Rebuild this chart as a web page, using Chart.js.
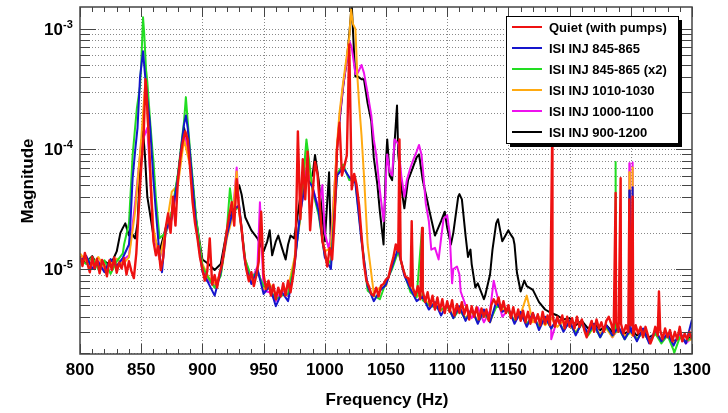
<!DOCTYPE html>
<html>
<head>
<meta charset="utf-8">
<script src="https://cdn.jsdelivr.net/npm/chart.js@4.4.1/dist/chart.umd.min.js"></script>
<style>
  html, body { margin: 0; padding: 0; background: #fff; }
  canvas { display: block; }
</style>
</head>
<body>
<canvas id="spec" width="728" height="413"></canvas>
<script>
// 値はすべて 1e-6 単位（読み取り値）
const X_MIN = 800, X_MAX = 1300;
const Y_MIN = 1.96e-6, Y_MAX = 1.52e-3;
const X_TICK_STEP = 50;

const SERIES_LABELS = ['Quiet (with pumps)', 'ISI INJ 845-865', 'ISI INJ 845-865 (x2)',
  'ISI INJ 1010-1030', 'ISI INJ 1000-1100', 'ISI INJ 900-1200'];
const SERIES_COLORS = ['#ee1111', '#1515cc', '#22dd22', '#ffaa11', '#ee11ee', '#000000'];

// Quiet: 2 Hz 刻み
const QUIET_F0 = 800, QUIET_DF = 2;
const quietMag = [
  12.8, 10.6, 13.6, 11.2, 9.4, 12.6, 10.0, 12.2, 9.2, 11.9, 10.7, 8.7, 11.8, 9.8, 12.5, 9.3, 11.3, 10.1, 12.3, 9.0, 11.6, 9.6, 8.4, 13.5,
  32, 70, 130, 330, 140, 45, 17, 13, 15.5, 9.8, 12.5, 22, 29, 20, 40, 23, 55, 85, 115, 140, 120, 68, 36, 24, 18, 12.5,
  10, 8.0, 9.6, 18, 7.4, 8.9, 7.0, 9.2, 11, 15, 21, 28, 36, 23, 56, 31, 22, 13.5, 9.8, 7.9,
  9.4, 7.2, 8.8, 11.5, 30, 9.0, 6.8, 8.0, 6.0, 7.4, 5.6, 7.0, 5.9, 7.6, 6.0, 8.0, 6.4, 8.6, 13, 140,
  26, 82, 38, 95, 21, 42, 78, 62, 33, 17,
  14, 10.5, 15, 12, 26, 100, 165, 60, 72, 88, 740, 46, 62, 50, 34, 19, 11, 8.0, 7.2, 6.2,
  6.0, 7.0, 5.9, 7.3, 7.5, 8.2, 8.5, 10.5, 12.5, 16, 14, 12, 10, 8.6, 8.4, 7.2, 7.0, 6.0, 7.2, 5.6,
  6.6, 5.3, 6.4, 4.9, 6.0, 4.6, 5.8, 4.5, 5.6, 4.3,
  5.4, 4.4, 5.5, 4.1, 5.1, 4.3, 5.3, 4.2, 5.0, 3.8, 4.9, 4.0, 4.8, 3.8, 4.7, 4.0, 4.6, 3.7, 5.0, 5.6,
  5.1, 5.8, 4.5, 5.4, 4.3, 5.0, 3.9, 4.8, 3.8, 4.6, 3.7, 4.5, 3.6, 4.4, 3.5, 4.3, 3.6, 4.2, 3.4, 4.4,
  3.5, 4.1, 3.4, 4.2, 3.3, 4.0, 3.5, 4.1, 3.2, 4.0,
  3.3, 3.9, 3.2, 4.0, 3.3, 3.8, 3.1, 2.7, 3.2, 3.7, 3.0, 3.8, 3.2, 3.6, 3.0, 3.7, 4.0, 3.5, 2.9, 3.6,
  3.0, 3.5, 2.9, 3.4, 3.0, 3.4, 2.8, 3.4, 2.9, 3.3, 2.7, 3.3, 2.8, 2.4, 2.7, 3.3, 2.8, 3.1, 2.6, 3.2,
  2.7, 3.1, 2.5, 3.0, 2.6, 3.3, 2.5, 2.9, 2.6, 3.0, 2.6
];
const quietExtra = [[853.5, 380], [1061, 120], [1071, 25], [1079.5, 22], [1185.9, 160],
  [1237.6, 43], [1241.7, 57], [1248.8, 38], [1251.5, 40], [1273, 6.5]];

// 注入データ: 5 Hz 刻み
const INJ_F0 = 800, INJ_DF = 5;
const inj845Mag = [
  11.5, 12.9, 10.0, 11.4, 9.4, 12.1, 10.6, 12.4, 16, 95,
  480, 260, 55, 13, 21, 27, 58, 160, 88, 22,
  9.5, 7.6, 6.0, 9.5, 19, 31, 34, 11, 7.5, 10,
  6.2, 7.2, 4.9, 6.4, 5.4, 10, 30, 58, 48, 30,
  12.5, 10, 60, 70, 58, 52, 17, 7.2, 5.4, 6.6,
  7.4, 10.5, 15, 8.8, 6.8, 5.4, 5.9, 4.6, 5.3, 4.1,
  5.1, 3.9, 4.9, 3.7, 4.7, 3.5, 4.6, 3.6, 5.3, 4.4,
  4.7, 3.5, 4.4, 3.3, 4.3, 3.1, 4.0, 3.2, 3.9, 3.0,
  3.7, 2.8, 3.6, 2.9, 3.5, 2.7, 3.4, 2.8, 3.3, 2.6,
  3.2, 2.5, 3.2, 2.4, 3.1, 2.5, 2.9, 2.3, 3.0, 2.4,
  3.8
];
const inj845Extra = [[841, 22], [843, 57], [847, 150], [849, 390], [851.5, 650], [853, 430],
  [857, 170], [859, 80], [862, 30], [867, 9.4], [883, 110], [886.5, 190], [888, 150],
  [1248.4, 3.0], [1248.8, 45], [1249.2, 3.0], [1251.1, 2.9], [1251.5, 48], [1251.9, 2.9]];

const inj845x2Mag = [
  12.0, 11.0, 12.6, 9.9, 11.8, 9.1, 11.6, 13.5, 24, 150,
  500, 360, 80, 18, 20, 30, 62, 170, 95, 26,
  10.5, 8.4, 7.0, 8.8, 21, 30, 33, 12, 8.6, 9.4,
  7.2, 6.8, 5.6, 6.0, 6.2, 11, 28, 120, 46, 28,
  13, 11, 62, 74, 55, 54, 18, 6.6, 6.0, 5.6,
  7.8, 10, 14, 9.2, 6.4, 5.8, 5.5, 5.0, 4.8, 4.6,
  4.9, 3.9, 4.6, 3.8, 4.5, 3.6, 4.3, 3.7, 4.8, 5.0,
  4.4, 3.7, 4.2, 3.5, 4.1, 3.3, 4.0, 3.2, 3.8, 3.1,
  3.6, 2.9, 3.5, 2.8, 3.4, 2.7, 3.3, 2.8, 3.2, 2.6,
  3.1, 2.6, 3.0, 2.5, 2.9, 2.4, 2.8, 2.1, 2.7, 2.5,
  2.7
];
const inj845x2Extra = [[836, 16], [843, 89], [846.5, 220], [849, 330], [851.5, 1250], [852.5, 900],
  [854, 450], [857.5, 160], [859.5, 89], [862, 39], [886.5, 270], [888, 170], [922.5, 47],
  [1079.5, 22], [1237.2, 3.0], [1237.6, 78], [1238.0, 3.0], [1285.5, 2.0]];

const inj1010Mag = [
  13.5, 11.6, 10.8, 12.6, 10.2, 11.0, 12.2, 11.0, 12.5, 30,
  120, 200, 22, 12, 21, 44, 50, 120, 72, 24,
  11, 8.6, 7.6, 9.0, 18, 28, 30, 12, 8.2, 9.8,
  6.8, 7.5, 6.2, 6.6, 7.0, 12, 26, 110, 44, 30,
  14, 15, 110, 360, 850, 1000, 130, 16, 6.3, 7.0,
  7.2, 11, 14, 9.0, 7.0, 6.0, 6.0, 5.0, 5.2, 4.5,
  5.0, 4.1, 4.7, 3.9, 4.6, 3.7, 4.3, 3.6, 5.0, 4.6,
  4.6, 3.7, 4.2, 6.0, 3.6, 4.0, 3.4, 3.9, 3.3, 3.7,
  3.4, 3.0, 3.5, 2.8, 3.3, 2.9, 3.2, 2.7, 3.2, 2.8,
  3.0, 2.6, 3.0, 2.5, 2.9, 2.6, 2.8, 2.4, 2.7, 2.5,
  2.6
];
const inj1010Extra = [[854, 440], [928, 65], [1008, 50], [1012, 200], [1018, 600], [1021.5, 1450],
  [1023, 1100], [1026.5, 420], [1028, 240], [1032, 60],
  [1248.4, 2.9], [1248.8, 64], [1249.2, 2.9], [1251.1, 2.8], [1251.5, 70], [1251.9, 2.8]];

const inj1000Mag = [
  11.8, 12.4, 10.6, 11.6, 10.0, 11.4, 10.4, 11.8, 13, 35,
  110, 150, 20, 12, 20, 26, 55, 140, 80, 23,
  10, 8.0, 7.2, 9.4, 20, 30, 32, 11.5, 8.0, 10.5,
  6.6, 6.4, 5.4, 6.8, 6.0, 11, 28, 70, 48, 32,
  20, 18, 100, 340, 800, 420, 500, 290, 120, 45,
  60, 60, 110, 40, 70, 95, 70, 25, 15, 18,
  28, 10, 9, 5.0, 3.9, 4.8, 3.6, 4.5, 6.5, 4.0,
  4.6, 3.6, 4.3, 3.4, 4.2, 3.3, 4.0, 3.3, 3.8, 3.1,
  3.6, 2.9, 3.5, 2.9, 3.4, 2.8, 3.3, 2.7, 3.2, 2.7,
  3.2, 2.6, 3.0, 2.5, 3.0, 2.5, 2.9, 2.4, 2.8, 2.4,
  2.7
];
const inj1000Extra = [[928, 70], [947, 36], [998, 50], [1003, 15], [1008, 50], [1012, 180],
  [1018, 550], [1022, 700], [1024, 500], [1027, 430], [1032, 430], [1038, 190], [1042, 90],
  [1048, 25], [1049.5, 40], [1051, 90], [1053, 65], [1057, 120], [1062.5, 60], [1067, 55],
  [1072, 80], [1077, 108], [1079, 90], [1082.5, 35], [1087, 14.5], [1093, 12], [1097, 26],
  [1102, 20], [1104, 7.6], [1108, 10.5], [1111, 6.5], [1138, 8], [1185, 2.6],
  [1248.4, 3.0], [1248.8, 76], [1249.2, 3.0], [1251.1, 2.9], [1251.5, 77], [1251.9, 2.9]];

const inj900Mag = [
  12.2, 11.4, 12.8, 10.4, 11.6, 10.8, 14, 22, 19, 18,
  110, 40, 19, 14, 22, 28, 60, 150, 85, 25,
  12, 11, 9.8, 11, 21, 32, 50, 27, 21, 18,
  14, 21, 17, 15, 16, 18, 40, 55, 60, 55,
  17, 15, 100, 330, 900, 400, 380, 240, 85, 30,
  80, 55, 90, 32, 62, 85, 55, 32, 19, 25,
  22, 20, 42, 19, 11, 7.6, 5.6, 9, 24, 17,
  21, 16, 6.5, 7.2, 6.7, 5.3, 4.6, 4.3, 4.1, 3.8,
  3.9, 3.4, 3.7, 3.2, 3.5, 3.1, 3.4, 3.0, 3.2, 2.9,
  3.1, 2.8, 3.0, 2.7, 2.9, 2.6, 2.8, 2.5, 2.7, 2.5,
  2.8
];
const inj900Extra = [[833, 20], [837, 24], [842, 20], [847, 24], [851.5, 140], [853, 90],
  [928, 44], [932, 42], [953, 17], [957, 13], [962, 19], [968, 12], [972, 19], [992, 89],
  [1003.5, 64], [1008, 40], [1012, 170], [1018, 550], [1022, 1600], [1024, 600], [1027, 400],
  [1032, 380], [1038, 170], [1043, 50], [1048, 16], [1051, 120], [1053, 60], [1059, 230],
  [1063, 44], [1068, 55], [1077, 90], [1084, 36], [1098, 30], [1103, 16], [1109, 40],
  [1112, 38], [1117, 12.6], [1119, 14.5], [1123, 7], [1131, 6], [1137, 14.5], [1141.5, 26],
  [1151, 20], [1154, 18], [1157, 9.3], [1163, 8]];

const FONT = '"Liberation Sans", Arial, Helvetica, sans-serif';

function buildSeries(f0, df, mag, extra) {
  const pts = mag.map((v, i) => ({ x: f0 + i * df, y: v * 1e-6 }));
  extra.forEach(([f, v]) => pts.push({ x: f, y: v * 1e-6 }));
  return pts.sort((a, b) => a.x - b.x);
}

const seriesData = [
  buildSeries(QUIET_F0, QUIET_DF, quietMag, quietExtra),
  buildSeries(INJ_F0, INJ_DF, inj845Mag, inj845Extra),
  buildSeries(INJ_F0, INJ_DF, inj845x2Mag, inj845x2Extra),
  buildSeries(INJ_F0, INJ_DF, inj1010Mag, inj1010Extra),
  buildSeries(INJ_F0, INJ_DF, inj1000Mag, inj1000Extra),
  buildSeries(INJ_F0, INJ_DF, inj900Mag, inj900Extra),
];

// 対数目盛（1..9 x 10^n）
function logTicks() {
  const out = [];
  for (let e = -6; e <= -3; e++) {
    for (let m = 1; m <= 9; m++) {
      const v = m * Math.pow(10, e);
      if (v >= Y_MIN && v <= Y_MAX) out.push({ v, major: m === 1, e });
    }
  }
  return out;
}

function seg(ctx, x1, y1, x2, y2) {
  ctx.beginPath(); ctx.moveTo(x1, y1); ctx.lineTo(x2, y2); ctx.stroke();
}

// ROOT 風の枠・グリッド・凡例
const rootFrame = {
  id: 'rootFrame',
  beforeDraw(chart) {
    const c = chart.ctx;
    c.save(); c.fillStyle = '#fff'; c.fillRect(0, 0, chart.width, chart.height); c.restore();
  },
  beforeDatasetsDraw(chart) {
    const { ctx, chartArea: a, scales: { x, y } } = chart;
    ctx.save();
    ctx.strokeStyle = '#888'; ctx.lineWidth = 1; ctx.setLineDash([1, 2]);
    for (let f = X_MIN + X_TICK_STEP; f < X_MAX; f += X_TICK_STEP) {
      const px = Math.round(x.getPixelForValue(f)) + 0.5;
      seg(ctx, px, a.top, px, a.bottom);
    }
    logTicks().forEach(t => {
      const py = Math.round(y.getPixelForValue(t.v)) + 0.5;
      seg(ctx, a.left, py, a.right, py);
    });
    ctx.restore();
  },
  afterDatasetsDraw(chart) {
    const { ctx, chartArea: a, scales: { x, y } } = chart;
    ctx.save();
    // 目盛
    ctx.strokeStyle = '#444'; ctx.lineWidth = 1;
    for (let f = X_MIN; f <= X_MAX; f += 10) {
      const major = f % X_TICK_STEP === 0;
      const len = major ? 10 : 5;
      const px = Math.round(x.getPixelForValue(f)) + 0.5;
      seg(ctx, px, a.bottom, px, a.bottom - len);
      seg(ctx, px, a.top, px, a.top + len);
    }
    logTicks().forEach(t => {
      const len = t.major ? 16 : 10;
      const py = Math.round(y.getPixelForValue(t.v)) + 0.5;
      seg(ctx, a.left, py, a.left + len, py);
      seg(ctx, a.right, py, a.right - len, py);
    });
    // 枠
    ctx.lineWidth = 1.5;
    ctx.strokeRect(a.left, a.top, a.right - a.left, a.bottom - a.top);

    // y ラベル 10^n
    ctx.fillStyle = '#000';
    logTicks().filter(t => t.major).forEach(t => {
      const py = y.getPixelForValue(t.v);
      ctx.font = 'bold 17px ' + FONT;
      ctx.textAlign = 'right'; ctx.textBaseline = 'alphabetic';
      ctx.fillText('10', 63, py + 6);
      ctx.font = 'bold 11px ' + FONT;
      ctx.textAlign = 'left';
      ctx.fillText(String(t.e), 63, py - 1);
    });

    // 軸タイトル
    ctx.font = 'bold 17px ' + FONT;
    ctx.textAlign = 'center'; ctx.textBaseline = 'middle';
    ctx.fillText('Frequency (Hz)', 387, 400);
    ctx.save();
    ctx.translate(28, 181); ctx.rotate(-Math.PI / 2);
    ctx.fillText('Magnitude', 0, 0);
    ctx.restore();

    // 凡例
    const lx = 506, ly = 16, lw = 172, lh = 127;
    ctx.fillStyle = '#000';
    ctx.fillRect(lx + 4, ly + 4, lw, lh);
    ctx.fillStyle = '#fff';
    ctx.fillRect(lx, ly, lw, lh);
    ctx.strokeStyle = '#000'; ctx.lineWidth = 1;
    ctx.strokeRect(lx + 0.5, ly + 0.5, lw, lh);
    ctx.font = 'bold 13px ' + FONT;
    ctx.textAlign = 'left'; ctx.textBaseline = 'middle';
    chart.data.datasets.forEach((ds, i) => {
      const yy = ly + 11 + i * 21;
      ctx.strokeStyle = ds.borderColor; ctx.lineWidth = 2;
      seg(ctx, lx + 6, yy, lx + 36, yy);
      ctx.fillStyle = '#000';
      ctx.fillText(ds.label, lx + 43, yy + 1);
    });
    ctx.restore();
  }
};

new Chart(document.getElementById('spec'), {
  type: 'line',
  data: {
    datasets: SERIES_LABELS.map((label, i) => ({
      label,
      data: seriesData[i],
      borderColor: SERIES_COLORS[i],
      backgroundColor: SERIES_COLORS[i],
      borderWidth: i === 0 ? 2.4 : 2,
      borderJoinStyle: 'round',
      pointRadius: 0,
      tension: 0,
      fill: false,
    })),
  },
  options: {
    responsive: false,
    animation: false,
    devicePixelRatio: 1,
    parsing: false,
    layout: { padding: { top: 7, right: 36, left: 0, bottom: 0 } },
    plugins: { legend: { display: false }, tooltip: { enabled: false } },
    scales: {
      x: {
        type: 'linear', min: X_MIN, max: X_MAX,
        grid: { display: false, drawTicks: false },
        border: { display: false },
        ticks: {
          stepSize: X_TICK_STEP, autoSkip: false, maxRotation: 0, padding: 6,
          color: '#000', font: { family: FONT, weight: 'bold', size: 17 },
          callback: v => String(v),
        },
        afterFit: s => { s.height = 59; },
      },
      y: {
        type: 'logarithmic', min: Y_MIN, max: Y_MAX,
        grid: { display: false, drawTicks: false },
        border: { display: false },
        ticks: { display: false },
        afterFit: s => { s.width = 80; },
      },
    },
  },
  plugins: [rootFrame],
});
</script>
</body>
</html>
